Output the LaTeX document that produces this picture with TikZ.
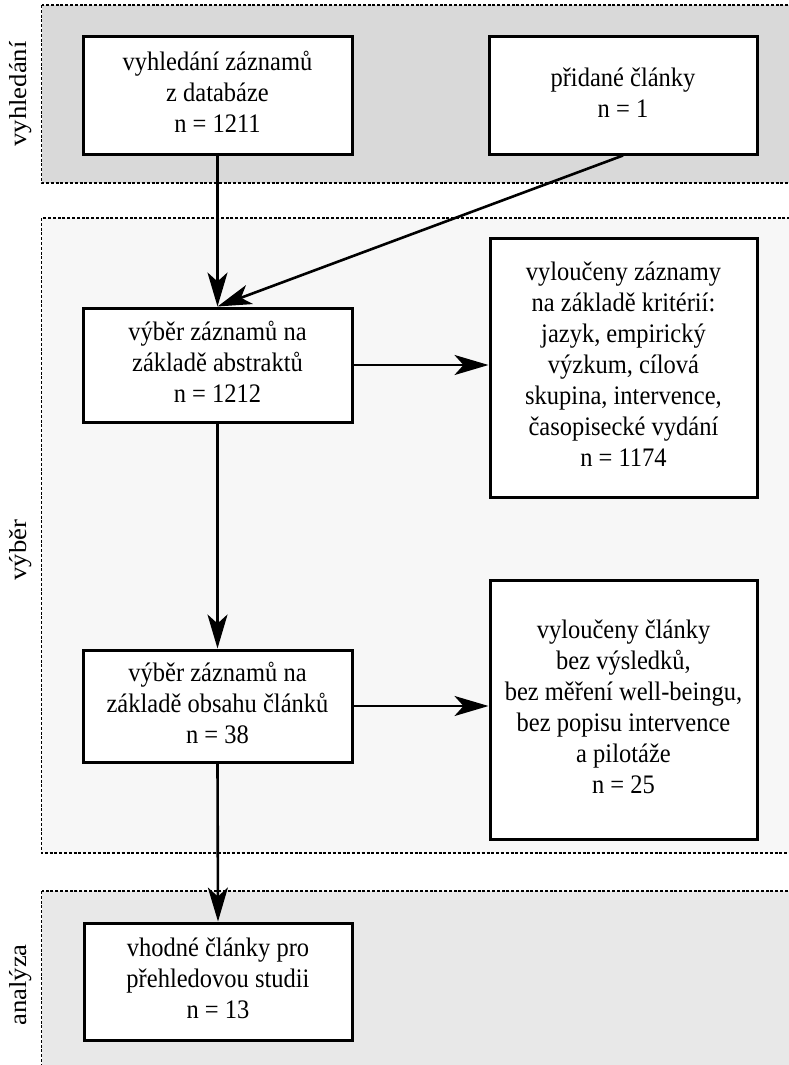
\documentclass[tikz,border=0pt]{standalone}
\usepackage{graphicx}
\usepackage{fontspec}
\setmainfont{Liberation Serif}
\usetikzlibrary{arrows.meta}
\definecolor{panelA}{HTML}{D9D9D9}
\definecolor{panelB}{HTML}{F7F7F7}
\definecolor{panelC}{HTML}{E8E8E8}
\newcommand{\stretchtext}[1]{\scalebox{1}[1.09]{\begin{tabular}{@{}c@{}}#1\end{tabular}}}
\newcommand{\stretchlabel}[1]{\scalebox{1.09}[1]{#1}}
\tikzset{
  panel/.style={draw=black, line width=1.4pt, dash pattern=on 3pt off 1.8pt},
  stagebox/.style={draw=black, fill=white, line width=3pt, align=center,
    inner sep=0pt, font=\fontsize{24.5}{28.4}\selectfont},
  phaselabel/.style={rotate=90, font=\fontsize{24.5}{28.4}\selectfont, inner sep=0pt},
  flow/.style={line width=2.6pt, -{Stealth[length=34pt,width=20pt,inset=9pt]}},
}
\begin{document}
\begin{tikzpicture}[x=1pt,y=-1pt]
\clip (0,0) rectangle (789,1065);
\fill[white] (0,0) rectangle (789,1065);
% panels
\draw[panel, fill=panelA] (41.5,5) rectangle (820,183);
\draw[panel, fill=panelB] (41.5,218) rectangle (820,853);
\draw[panel, fill=panelC] (41.5,891) rectangle (820,1100);
% phase labels
\node[phaselabel] (l1) at (21,94) {\stretchlabel{vyhledání}};
\node[phaselabel] (l2) at (21,550) {\stretchlabel{výběr}};
\node[phaselabel] (l3) at (21,985) {\stretchlabel{analýza}};
% boxes
\node[stagebox, minimum width=269pt, minimum height=117pt] (A) at (217.5,95.5)
  {\stretchtext{vyhledání záznamů\\z databáze\\n = 1211}};
\node[stagebox, minimum width=268pt, minimum height=117pt] (B) at (623,95.5)
  {\stretchtext{přidané články\\n = 1}};
\node[stagebox, minimum width=269pt, minimum height=114pt] (C) at (217.5,365)
  {\stretchtext{výběr záznamů na\\základě abstraktů\\n = 1212}};
\node[stagebox, minimum width=267pt, minimum height=259pt] (D) at (623.5,367.5)
  {\stretchtext{vyloučeny záznamy\\na základě kritérií:\\jazyk, empirický\\výzkum, cílová\\skupina, intervence,\\časopisecké vydání\\n = 1174}};
\node[stagebox, minimum width=269pt, minimum height=112pt] (E) at (217.5,706)
  {\stretchtext{výběr záznamů na\\základě obsahu článků\\n = 38}};
\node[stagebox, minimum width=267pt, minimum height=259pt] (F) at (623.5,709.5)
  {\stretchtext{vyloučeny články\\bez výsledků,\\bez měření well-beingu,\\bez popisu intervence\\a pilotáže\\n = 25}};
\node[stagebox, minimum width=268pt, minimum height=117pt] (G) at (218,981.5)
  {\stretchtext{vhodné články pro\\přehledovou studii\\n = 13}};
% connectors
\draw[flow] (A.south) -- (C.north);
\draw[flow] (B.south) -- (C.north);
\draw[flow] (C.east) -- (D.west |- C.east);
\draw[flow] (C.south) -- (E.north);
\draw[flow] (E.east) -- (F.west |- E.east);
\draw[flow] (E.south) -- (G.north);
\end{tikzpicture}
\end{document}
